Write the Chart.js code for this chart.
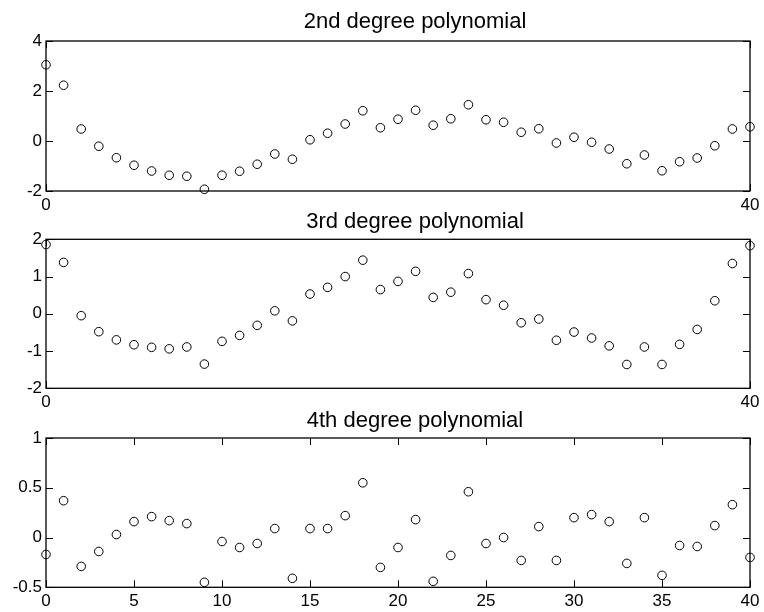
<!DOCTYPE html>
<html>
<head>
<meta charset="utf-8">
<script src="https://cdn.jsdelivr.net/npm/chart.js@4.4.1/dist/chart.umd.min.js"></script>
<style>
  html, body { margin: 0; padding: 0; background: #ffffff; }
  #wrap { position: relative; width: 764px; height: 612px; overflow: hidden; }
  #wrap canvas { position: absolute; left: 0; }
</style>
</head>
<body>
<div id="wrap">
  <canvas id="quadChart"></canvas>
  <canvas id="cubicChart"></canvas>
  <canvas id="quarticChart"></canvas>
</div>
<script>
const xValues = [0, 1, 2, 3, 4, 5, 6, 7, 8, 9, 10, 11, 12, 13, 14, 15, 16, 17, 18, 19, 20,
  21, 22, 23, 24, 25, 26, 27, 28, 29, 30, 31, 32, 33, 34, 35, 36, 37, 38, 39, 40];

const quadResiduals = [3.05, 2.23, 0.48, -0.21, -0.67, -0.97, -1.2, -1.37, -1.41, -1.93, -1.37,
  -1.21, -0.93, -0.52, -0.73, 0.05, 0.31, 0.68, 1.21, 0.53, 0.87,
  1.23, 0.63, 0.89, 1.45, 0.85, 0.75, 0.35, 0.49, -0.08, 0.15,
  -0.05, -0.32, -0.91, -0.56, -1.19, -0.83, -0.68, -0.19, 0.48, 0.57];

const cubicResiduals = [1.86, 1.38, -0.05, -0.48, -0.70, -0.83, -0.90, -0.94, -0.89, -1.35, -0.74,
  -0.58, -0.31, 0.08, -0.19, 0.53, 0.71, 1.0, 1.44, 0.65, 0.87,
  1.14, 0.44, 0.58, 1.08, 0.38, 0.23, -0.24, -0.14, -0.71, -0.49,
  -0.65, -0.86, -1.36, -0.89, -1.36, -0.82, -0.42, 0.35, 1.35, 1.83];

const quarticResiduals = [-0.17, 0.37, -0.29, -0.14, 0.03, 0.16, 0.21, 0.17, 0.14, -0.45, -0.04,
  -0.10, -0.06, 0.09, -0.41, 0.09, 0.09, 0.22, 0.55, -0.30, -0.10,
  0.18, -0.44, -0.18, 0.46, -0.06, 0.00, -0.23, 0.11, -0.23, 0.20,
  0.23, 0.16, -0.26, 0.20, -0.38, -0.08, -0.09, 0.12, 0.33, -0.20];

const titles = ["2nd degree polynomial", "3rd degree polynomial", "4th degree polynomial"];
const yRanges = [[-2, 4, 2], [-2, 2, 1], [-0.5, 1, 0.5]];
const xSteps = [40, 40, 5];

const FONT = "'Liberation Sans', Arial, Helvetica, sans-serif";

// the original titles sit a bit right of the axes centre, so draw them ourselves
const panelTitlePlugin = {
  id: "panelTitle",
  afterDraw(chart, args, opts) {
    const ctx = chart.ctx;
    ctx.save();
    ctx.fillStyle = "#000";
    ctx.font = "22px " + FONT;
    ctx.textAlign = "center";
    ctx.textBaseline = "alphabetic";
    ctx.fillText(opts.text, opts.x, opts.baseline);
    ctx.restore();
  }
};

// draws the full box and inward tick marks on all four sides, like the original figure
const boxTicksPlugin = {
  id: "boxTicks",
  afterDraw(chart) {
    const { ctx, chartArea: a, scales } = chart;
    const len = 7;
    ctx.save();
    ctx.strokeStyle = "#000";
    ctx.lineWidth = 1;
    scales.x.ticks.forEach(t => {
      const px = Math.round(scales.x.getPixelForValue(t.value)) + 0.5;
      ctx.beginPath();
      ctx.moveTo(px, a.top); ctx.lineTo(px, a.top + len);
      ctx.moveTo(px, a.bottom); ctx.lineTo(px, a.bottom - len);
      ctx.stroke();
    });
    scales.y.ticks.forEach(t => {
      const py = Math.round(scales.y.getPixelForValue(t.value)) + 0.5;
      ctx.beginPath();
      ctx.moveTo(a.left, py); ctx.lineTo(a.left + len, py);
      ctx.moveTo(a.right, py); ctx.lineTo(a.right - len, py);
      ctx.stroke();
    });
    ctx.lineWidth = 1.3;
    ctx.strokeRect(a.left, a.top, a.right - a.left, a.bottom - a.top);
    ctx.restore();
  }
};

function makePanel(id, idx, values, top, height, plotTop, plotBottom, titleBaseline) {
  const canvas = document.getElementById(id);
  canvas.style.top = top + "px";
  canvas.width = 764;
  canvas.height = height;
  canvas.style.width = "764px";
  canvas.style.height = height + "px";

  const [yMin, yMax, yStep] = yRanges[idx];
  return new Chart(canvas.getContext("2d"), {
    type: "scatter",
    data: {
      datasets: [{
        data: xValues.map((x, i) => ({ x: x, y: values[i] })),
        pointStyle: "circle",
        pointRadius: 4.3,
        pointBorderWidth: 1,
        pointBorderColor: "#000",
        pointBackgroundColor: "rgba(0,0,0,0)",
        clip: false
      }]
    },
    options: {
      responsive: false,
      animation: false,
      events: [],
      layout: { padding: { left: 0, right: 14, top: plotTop, bottom: 0 } },
      plugins: {
        legend: { display: false },
        tooltip: { enabled: false },
        title: { display: false },
        panelTitle: { text: titles[idx], x: 415, baseline: titleBaseline }
      },
      scales: {
        x: {
          type: "linear",
          min: 0,
          max: 40,
          grid: { display: false, drawTicks: false, tickLength: 0 },
          border: { display: false },
          ticks: { stepSize: xSteps[idx], color: "#000", padding: 4, maxRotation: 0,
                   font: { family: FONT, size: 17 } },
          afterFit: scale => { scale.height = height - plotBottom; }
        },
        y: {
          type: "linear",
          min: yMin,
          max: yMax,
          grid: { display: false, drawTicks: false, tickLength: 0 },
          border: { display: false },
          ticks: { stepSize: yStep, color: "#000", padding: 4,
                   font: { family: FONT, size: 17 },
                   callback: v => String(Math.round(v * 10) / 10) },
          afterFit: scale => { scale.width = 46; }
        }
      }
    },
    plugins: [boxTicksPlugin, panelTitlePlugin]
  });
}

makePanel("quadChart", 0, quadResiduals, 0, 214, 41, 191, 28.3);
makePanel("cubicChart", 1, cubicResiduals, 200, 212, 39.3, 188.3, 27.7);
makePanel("quarticChart", 2, quarticResiduals, 398, 214, 40, 189.3, 28.7);
</script>
</body>
</html>
